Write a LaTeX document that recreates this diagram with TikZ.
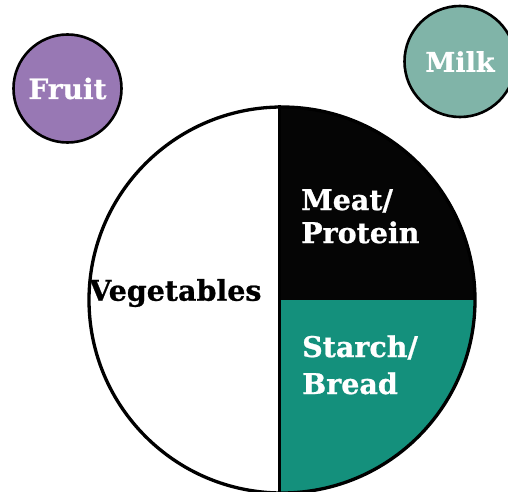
\documentclass[tikz,border=0pt]{standalone}
\usepackage{fontspec}
\setmainfont[BoldFeatures={FakeBold=0.8}]{DejaVu Serif}
\definecolor{fruitc}{RGB}{152,120,180}
\definecolor{milkc}{RGB}{128,180,168}
\definecolor{starchc}{RGB}{20,144,124}
\definecolor{meatc}{RGB}{5,5,5}
\tikzset{
  bigtext/.style={font=\fontsize{28.5}{30}\selectfont\bfseries, inner sep=0pt, anchor=base west},
  smallcirc/.style={circle, draw=black, line width=2.6pt, text=white, inner sep=0pt},
}
\begin{document}
\begin{tikzpicture}[x=1pt,y=1pt]
\useasboundingbox (0,0) rectangle (508,491);
\clip (0,0) rectangle (508,491);
% plate fills
\begin{scope}
  \clip (282,191) circle (193);
  \fill[white] (282,191) circle (193);
  \fill[meatc] (279,191) rectangle (480,400);
  \fill[starchc] (279,191) rectangle (480,-10);
\end{scope}
\node[circle, draw=black, line width=3.3pt, minimum size=386pt, inner sep=0pt] (plate) at (282,191) {};
\coordinate (divtop) at (279,386);
\coordinate (divbot) at (279,-5);
\draw[line width=3pt] (divtop) -- (divbot);
% side circles
\node[smallcirc, fill=fruitc, minimum size=108pt, font=\fontsize{28}{30}\selectfont\bfseries] (fruit) at (67.5,402.5) {Fruit};
\node[smallcirc, fill=milkc, minimum size=111pt, font=\fontsize{27}{30}\selectfont\bfseries] (milk) at (460,429.5) {Milk};
% labels
\node[bigtext, text=white] (meat) at (301,281) {Meat/};
\node[bigtext, text=white] (protein) at (301,248) {Protein};
\node[bigtext, text=white] (starch) at (302,134) {Starch/};
\node[bigtext, text=white] (bread) at (302,97) {Bread};
\node[bigtext, text=black] (veg) at (89,190.3) {Vegetables};
\end{tikzpicture}
\end{document}
